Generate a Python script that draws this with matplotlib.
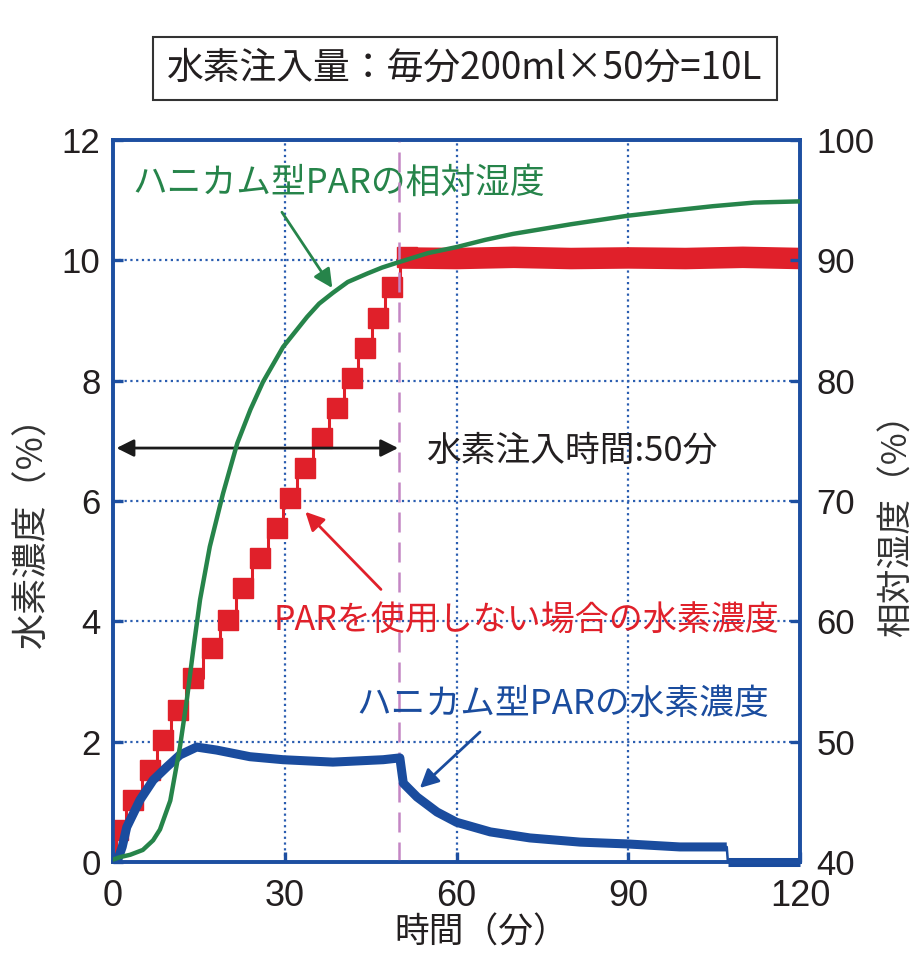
import matplotlib
matplotlib.use("Agg")
import matplotlib.pyplot as plt
from matplotlib.patches import Rectangle

plt.rcParams['font.family'] = ['Liberation Sans', 'Noto Sans CJK JP', 'DejaVu Sans']

# ---------------- data ----------------
# Relative humidity of honeycomb PAR (right axis, %)
rh_time = [0, 1.2, 3.0, 5.2, 7.0, 8.2, 10.0, 11.7, 12.9, 14.0, 15.2, 16.9, 19.2,
           21.7, 24.0, 26.2, 29.7, 33.9, 36.0, 38.4, 41.0, 44.4, 47.0, 49.6, 55, 60,
           65, 69.9, 80, 89.8, 97, 104.8, 112, 120]
rh_vals = [40.2, 40.4, 40.6, 41.0, 41.8, 42.7, 45.1, 49.6, 53.5, 57.6, 61.8, 66.2, 70.6,
           74.8, 77.6, 79.9, 82.8, 85.3, 86.4, 87.3, 88.2, 88.9, 89.4, 89.8, 90.6, 91.1,
           91.7, 92.2, 93.0, 93.7, 94.1, 94.5, 94.8, 94.9]

# Hydrogen concentration without PAR (left axis, %) - injection steps
h2_step_time = [0, 0.9, 3.5, 6.5, 8.7, 11.4, 14.0, 17.3, 20.1, 22.7, 25.7, 28.6, 30.9,
                33.5, 36.5, 39.1, 41.7, 44.0, 46.3, 48.7, 51.4]
h2_step_vals = [0.05, 0.53, 1.03, 1.53, 2.03, 2.53, 3.06, 3.56, 4.02, 4.55, 5.05, 5.55, 6.05,
                6.55, 7.05, 7.55, 8.04, 8.54, 9.04, 9.56, 10.05]
# Hydrogen concentration without PAR after injection (plateau)
h2_flat_time = [50.0, 60, 70, 80, 90, 100, 110, 120.2]
h2_flat_vals = [10.04, 10.03, 10.05, 10.03, 10.04, 10.03, 10.05, 10.03]

# Hydrogen concentration with honeycomb PAR (left axis, %)
par_time = [0, 0.7, 1.6, 2.4, 4.7, 7.0, 9.4, 11.7, 14.6, 18.1, 23.9, 29.7, 38.4, 47.2,
            50.1, 50.7, 53.1, 56.6, 60, 65.9, 72.8, 81.6, 89.8, 99, 107.2, 107.4, 120]
par_vals = [0, 0, 0.25, 0.58, 1.03, 1.36, 1.58, 1.78, 1.91, 1.86, 1.75, 1.70, 1.66, 1.70,
            1.73, 1.31, 1.08, 0.83, 0.66, 0.50, 0.40, 0.33, 0.30, 0.25, 0.25, 0.0, 0.0]

x_ticks = [0, 30, 60, 90, 120]
y_ticks = [0, 2, 4, 6, 8, 10, 12]
y2_ticks = [40, 50, 60, 70, 80, 90, 100]
inject_end = 50

title_text = "水素注入量：毎分200ml×50分=10L"
xlabel = "時間（分）"
ylabel = "水素濃度（%）"
y2label = "相対湿度（%）"

# ---------------- styles ----------------
BLUE = "#1a4c9e"
SPINE = "#1d4fa1"
GRID = "#2a5db0"
RED = "#e0202a"
GREEN = "#26844a"
PURPLE = "#c486c4"
TXT = "#231f20"
CJK = ['Noto Sans CJK JP', 'DejaVu Sans']

fig = plt.figure(figsize=(9.16, 9.55), dpi=100)
ax = fig.add_axes([0.1234, 0.0974, 0.75, 0.756])
ax2 = ax.twinx()

ax.set_xlim(0, 120)
ax.set_ylim(0, 12)
ax2.set_ylim(40, 100)

# grid
ax.set_xticks(x_ticks)
ax.set_yticks(y_ticks)
ax2.set_yticks(y2_ticks)
ax.grid(True, color=GRID, linestyle=(0, (1, 1.6)), linewidth=1.6)

for a in (ax, ax2):
    for s in a.spines.values():
        s.set_color(SPINE)
        s.set_linewidth(2.6)
ax.tick_params(axis='both', direction='in', length=7, width=2.4, color=SPINE,
               labelcolor=TXT)
ax.tick_params(axis='y', labelsize=25, pad=9)
ax.tick_params(axis='x', labelsize=26, pad=12)
ax2.tick_params(axis='y', direction='in', length=7, width=2.4, color=SPINE,
                labelcolor=TXT, labelsize=25, pad=12)

# red series (no PAR)
ax.plot(h2_step_time, h2_step_vals, color=RED, lw=2.2, drawstyle='steps-mid', zorder=3)
ax.plot(h2_step_time[1:], h2_step_vals[1:], linestyle='none', marker='s', markersize=14.5,
        color=RED, zorder=3)
ax.plot(h2_flat_time, h2_flat_vals, color=RED, lw=15.5, solid_capstyle='butt', zorder=3)

# injection end line
ax.axvline(inject_end, color=PURPLE, lw=1.8, linestyle=(0, (8, 4)), zorder=4)

# blue series (honeycomb PAR)
ax.plot(par_time, par_vals, color=BLUE, lw=1.8, zorder=5, clip_on=False)
ax.plot(par_time[:25], par_vals[:25], color=BLUE, lw=6.5, zorder=5,
        solid_capstyle='butt', solid_joinstyle='round')
ax.plot(par_time[25:], par_vals[25:], color=BLUE, lw=6.5, zorder=5, clip_on=False,
        solid_capstyle='butt')

# green series (RH) on right axis
ax2.plot(rh_time, rh_vals, color=GREEN, lw=3.2, zorder=6)

# double arrow for injection time
ax.annotate('', xy=(0.6, 6.88), xytext=(49.8, 6.88),
            arrowprops=dict(arrowstyle='<|-|>', color='#1a1a1a', lw=2,
                            mutation_scale=26, shrinkA=0, shrinkB=0))
ax.text(54.6, 6.83, "水素注入時間:50分", fontsize=25, color=TXT, family=CJK,
        ha='left', va='center')

# annotations
ax.text(39.5, 11.28, "ハニカム型PARの相対湿度", fontsize=25, color=GREEN, family=CJK,
        ha='center', va='center')
ax.annotate('', xy=(38.3, 9.54), xytext=(29.5, 10.80),
            arrowprops=dict(arrowstyle='-|>', color=GREEN, lw=2,
                            mutation_scale=28, shrinkA=0, shrinkB=0))

ax.text(72.3, 4.0, "PARを使用しない場合の水素濃度", fontsize=24.5, color=RED, family=CJK,
        ha='center', va='center', zorder=7)
ax.annotate('', xy=(33.6, 5.82), xytext=(46.8, 4.53),
            arrowprops=dict(arrowstyle='-|>', color=RED, lw=2,
                            mutation_scale=28, shrinkA=0, shrinkB=0))

ax.text(78.6, 2.61, "ハニカム型PARの水素濃度", fontsize=25, color=BLUE, family=CJK,
        ha='center', va='center', zorder=7)
ax.annotate('', xy=(53.6, 1.23), xytext=(64.1, 2.16),
            arrowprops=dict(arrowstyle='-|>', color=BLUE, lw=2,
                            mutation_scale=28, shrinkA=0, shrinkB=0))

# axis labels
fig.text(0.525, 0.023, xlabel, fontsize=25, color=TXT, family=CJK,
         ha='center', va='center')
fig.text(0.036, 0.452, ylabel, rotation=90, fontsize=26, color='#333333', family=CJK,
         ha='center', va='center')
fig.text(0.979, 0.459, y2label, rotation=90, fontsize=25, color='#333333', family=CJK,
         ha='center', va='center')

# title box
fig.patches.append(Rectangle((0.167, 0.8953), 0.681, 0.066, transform=fig.transFigure,
                             fill=False, edgecolor='#333333', lw=1.5))
fig.text(0.5076, 0.9283, title_text, fontsize=26.5, color=TXT, family=CJK,
         ha='center', va='center')

fig.savefig("out.png", dpi=100)
